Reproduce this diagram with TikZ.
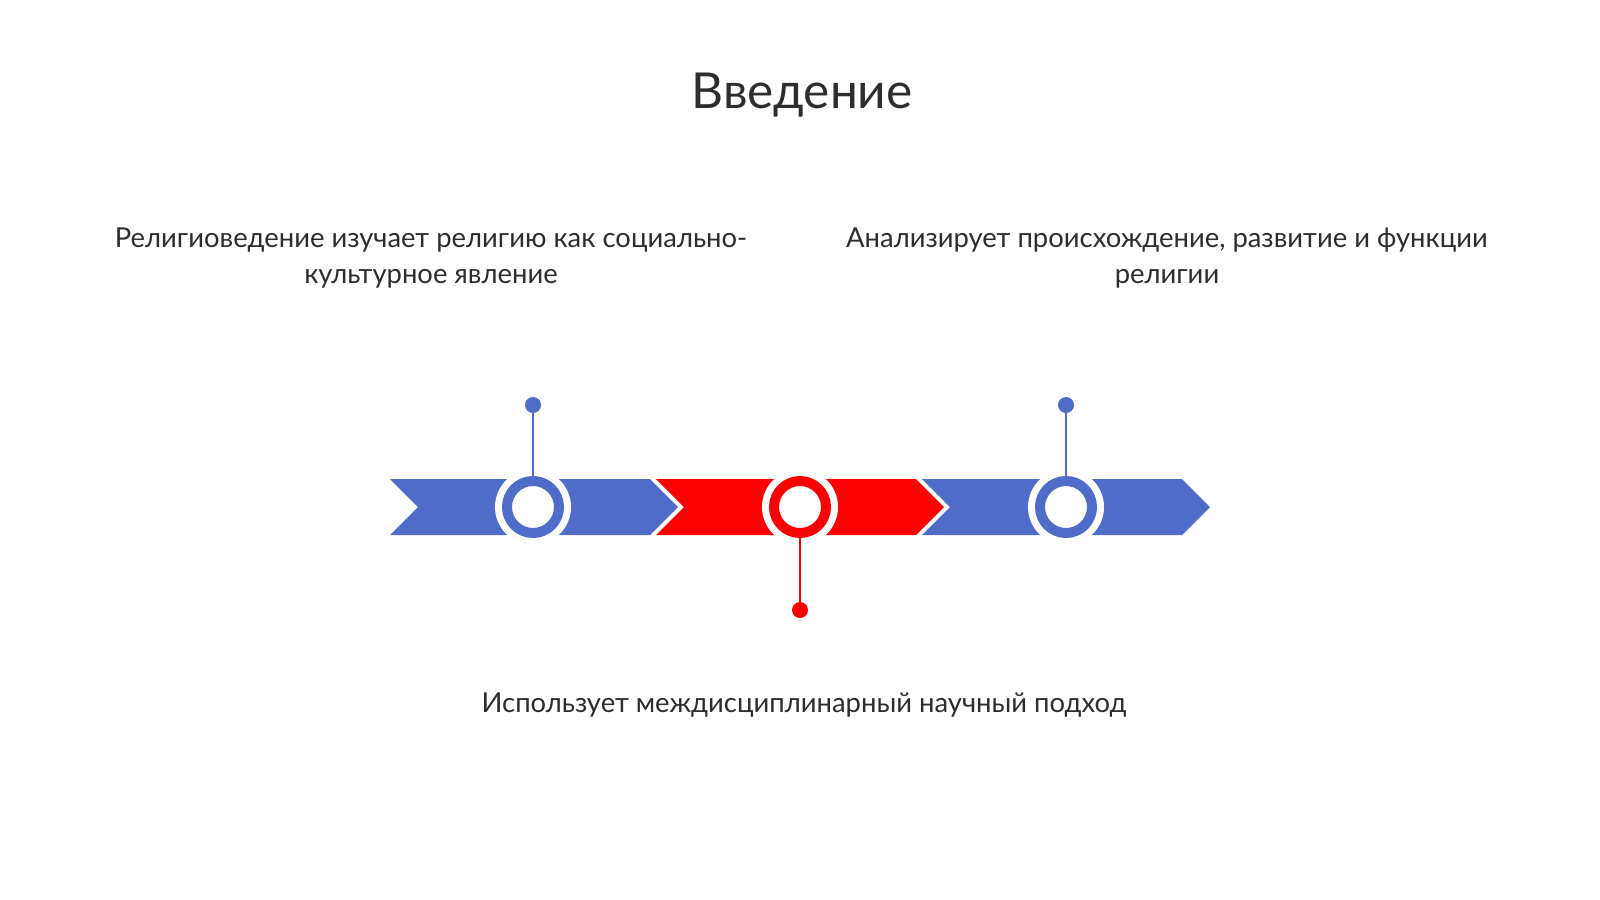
\documentclass[tikz,border=0pt]{standalone}
\usepackage{fontspec}
\setmainfont{Lato}
\definecolor{tlblue}{RGB}{78,108,200}
\definecolor{tlred}{RGB}{250,0,0}
\definecolor{txtgray}{RGB}{45,45,45}
\tikzset{
  ring/.style={circle,draw=#1,fill=white,line width=1mm,minimum size=5.2mm,inner sep=0pt},
  pin/.style={circle,fill=#1,minimum size=1.6mm,inner sep=0pt,outer sep=0pt},
  stem/.style={draw=#1,line width=0.8pt},
  label/.style={text=txtgray,font=\fontsize{7.8}{10.15}\selectfont,align=center}
}
\begin{document}
\begin{tikzpicture}[x=0.1mm,y=-0.1mm, line join=round]
		\useasboundingbox[fill=white] (0,0) rectangle (1600,899);
		% title
		\node[text=txtgray,font=\fontsize{14.1}{16}\selectfont] (title) at (802,95) {Введение};
		% chevrons
		\foreach \x/\col in {390/tlblue,656/tlred,922/tlblue}
			\fill[\col] (\x,479) -- ++(260,0) -- ++(28,28) -- ++(-28,28) -- ++(-260,0) -- ++(28,-28) -- cycle;
		% white halos round the rings
		\foreach \x in {533,800,1066}
			\fill[white] (\x,507) circle (38);
		\node[ring=tlblue] (c1) at (533,507) {};
		\node[ring=tlred] (c2) at (800,507) {};
		\node[ring=tlblue] (c3) at (1066,507) {};
		\node[pin=tlblue] (p1) at (533,405) {};
		\node[pin=tlred] (p2) at (800,610) {};
		\node[pin=tlblue] (p3) at (1066,405) {};
		\draw[stem=tlblue] (p1) -- (c1);
		\draw[stem=tlred] (c2) -- (p2);
		\draw[stem=tlblue] (p3) -- (c3);
		% texts
		\node[label] (t1) at (431,258) {Религиоведение изучает религию как социально-\\культурное явление};
		\node[label] (t3) at (1167,258) {Анализирует происхождение, развитие и функции\\религии};
		\node[label] (t2) at (804,705) {Использует междисциплинарный научный подход};
\end{tikzpicture}
\end{document}
